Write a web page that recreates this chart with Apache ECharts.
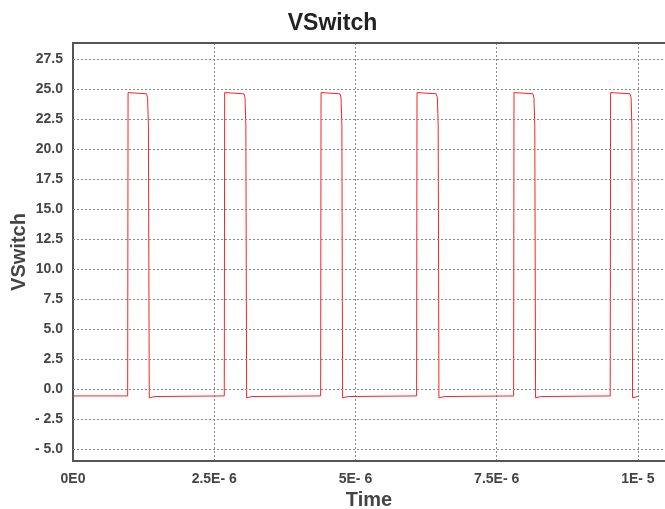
<!DOCTYPE html>
<html>
<head>
<meta charset="utf-8">
<script src="https://cdn.jsdelivr.net/npm/echarts@6/dist/echarts.min.js"></script>
<style>
  html, body { margin: 0; padding: 0; background: #fff; }
  #chart { width: 665px; height: 509px; }
</style>
</head>
<body>
<div id="chart"></div>
<script>
// waveform corner points, time in microseconds
var timeUs = [
  0, 0.968, 0.975, 1.30, 1.32, 1.335, 1.35, 1.45,
  2.678, 2.685, 3.025, 3.045, 3.06, 3.074, 3.17,
  4.384, 4.391, 4.725, 4.745, 4.76, 4.773, 4.87,
  6.083, 6.09, 6.43, 6.45, 6.465, 6.478, 6.58,
  7.80, 7.807, 8.14, 8.16, 8.175, 8.189, 8.29,
  9.51, 9.517, 9.86, 9.88, 9.893, 9.906, 10.0
];
var volts = [
  -0.55, -0.55, 24.72, 24.62, 24.3, 22.0, -0.7, -0.6,
  -0.55, 24.72, 24.62, 24.3, 22.0, -0.7, -0.6,
  -0.55, 24.72, 24.62, 24.3, 22.0, -0.7, -0.6,
  -0.55, 24.72, 24.62, 24.3, 22.0, -0.7, -0.6,
  -0.55, 24.72, 24.62, 24.3, 22.0, -0.7, -0.6,
  -0.55, 24.72, 24.62, 24.3, 22.0, -0.7, -0.6
];
var xTickLabels = ['0E0', '2.5E- 6', '5E- 6', '7.5E- 6', '1E- 5'];
var yTicks = [-5, -2.5, 0, 2.5, 5, 7.5, 10, 12.5, 15, 17.5, 20, 22.5, 25, 27.5];
var yTickLabels = ['- 5.0', '- 2.5', '0.0', '2.5', '5.0', '7.5', '10.0', '12.5',
  '15.0', '17.5', '20.0', '22.5', '25.0', '27.5'];

var points = timeUs.map(function (t, i) { return [t, volts[i]]; });

var fontFamily = 'Liberation Sans, Arial, sans-serif';
var labelFont = {
  color: '#444',
  fontSize: 14,
  fontWeight: 'bold',
  fontFamily: fontFamily
};
var dotted = { color: '#888', type: [2, 2], width: 1 };

var chart = echarts.init(document.getElementById('chart'));
chart.setOption({
  animation: false,
  title: {
    text: 'VSwitch',
    left: 'center',
    top: 7,
    textStyle: {
      color: '#222',
      fontSize: 23,
      fontWeight: 'bold',
      fontFamily: fontFamily
    }
  },
  grid: {
    left: 73,
    top: 43,
    right: 0,
    bottom: 48,
    containLabel: false,
    outerBoundsMode: 'none'
  },
  xAxis: [{
    type: 'value',
    min: 0,
    max: 10.48,
    interval: 2.5,
    name: 'Time',
    nameLocation: 'middle',
    nameGap: 28,
    nameTextStyle: {
      color: '#444',
      fontSize: 20,
      fontWeight: 'bold',
      fontFamily: fontFamily
    },
    axisLine: { show: true, onZero: false, lineStyle: { color: '#555', width: 2 } },
    axisTick: { show: false },
    axisLabel: Object.assign({
      margin: 11,
      showMaxLabel: false,
      formatter: function (v) {
        var idx = Math.round(v / 2.5);
        return Math.abs(v - idx * 2.5) < 1e-6 ? (xTickLabels[idx] || '') : '';
      }
    }, labelFont),
    splitLine: { show: true, lineStyle: dotted }
  }, {
    type: 'value',
    position: 'top',
    min: 0,
    max: 10.48,
    axisLine: { show: true, onZero: false, lineStyle: { color: '#555', width: 2 } },
    axisTick: { show: false },
    axisLabel: { show: false },
    splitLine: { show: false }
  }],
  yAxis: {
    type: 'value',
    min: -5.97,
    max: 28.85,
    name: 'VSwitch',
    nameLocation: 'middle',
    nameGap: 44,
    nameTextStyle: {
      color: '#444',
      fontSize: 20,
      fontWeight: 'bold',
      fontFamily: fontFamily
    },
    axisLine: { show: true, onZero: false, lineStyle: { color: '#555', width: 2 } },
    axisTick: { show: false },
    axisLabel: { show: false },
    splitLine: { show: false }
  },
  series: [{
    type: 'line',
    name: 'VSwitch',
    data: points,
    showSymbol: false,
    lineStyle: { color: '#ff2020', width: 1 },
    silent: true,
    z: 3,
    markLine: {
      silent: true,
      symbol: 'none',
      animation: false,
      lineStyle: dotted,
      emphasis: { disabled: true },
      label: Object.assign({
        position: 'start',
        distance: 10,
        formatter: function (p) { return yTickLabels[p.dataIndex]; }
      }, labelFont),
      data: yTicks.map(function (v) { return { yAxis: v }; })
    }
  }]
});
</script>
</body>
</html>
